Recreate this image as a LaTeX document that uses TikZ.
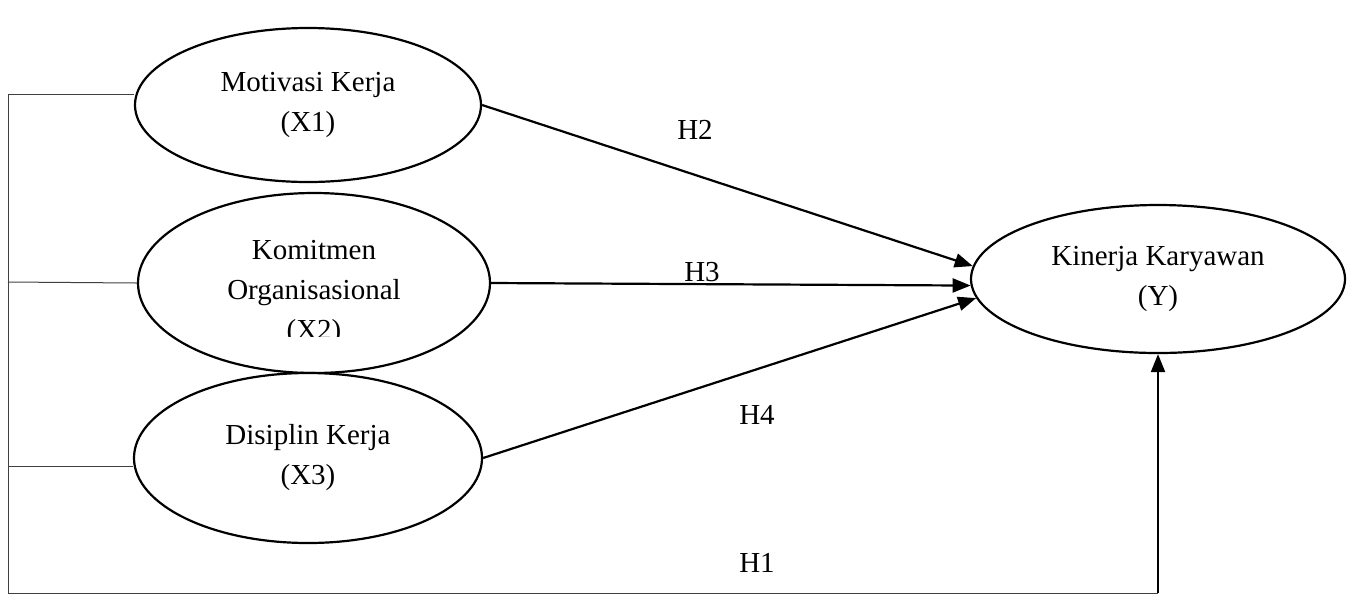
\documentclass[tikz,border=0pt]{standalone}
\usepackage{fontspec}
\setmainfont{Liberation Serif}
\usetikzlibrary{arrows.meta,positioning,shapes.geometric}

\begin{document}
\begin{tikzpicture}[x=0.5pt,y=-0.5pt,font=\fontsize{14.5}{20}\selectfont,
  var/.style={ellipse,draw,line width=1.1pt,fill=white,inner sep=0pt,align=center},
  hyp/.style={line width=1.1pt,-{Triangle[length=9pt,width=7pt]}},
  tie/.style={line width=0.5pt,black!75},
  lbl/.style={inner sep=0pt}]
  \useasboundingbox (0,0) rectangle (1352,601);
  % latent variables
  \node[var,minimum width=173pt,minimum height=77pt] (mot) at (308,105) {Motivasi Kerja\\(X1)};
  \node[var,minimum width=176pt,minimum height=90pt] (kom) at (314,283) {};
  \begin{scope}
    \clip (0,0) rectangle (1352,336);
    \node[lbl,align=center] (komtxt) at (314,293) {Komitmen\\Organisasional\\(X2)};
  \end{scope}
  \node[var,minimum width=174pt,minimum height=85pt] (dis) at (308,458) {Disiplin Kerja\\(X3)};
  \node[var,minimum width=187pt,minimum height=74pt] (kin) at (1158,279) {Kinerja Karyawan\\(Y)};
  % hypotheses
  \draw[hyp] (mot.east) -- (kin.176);
  \draw[hyp] (kom.east) -- (kin.182);
  \draw[hyp] (dis.east) -- (kin.186);
  \node[lbl] (h2) at (695,130) {H2};
  \node[lbl] (h3) at (702,272) {H3};
  \node[lbl] (h4) at (757,415) {H4};
  \node[lbl] (h1) at (757,563) {H1};
  % simultaneous path
  \coordinate (top) at (8,94);
  \coordinate (k2) at (8,282);
  \coordinate (k3) at (8,466);
  \coordinate (base) at (8,593);
  \draw[tie] (top) -- (top -| mot.west);
  \draw[tie] (k2) -- (kom.west);
  \draw[tie] (k3) -- (k3 -| dis.west);
  \draw[tie] (top) -- (base) -- (base -| kin.south);
  \draw[hyp] (base -| kin.south) -- (kin.south);
\end{tikzpicture}
\end{document}
